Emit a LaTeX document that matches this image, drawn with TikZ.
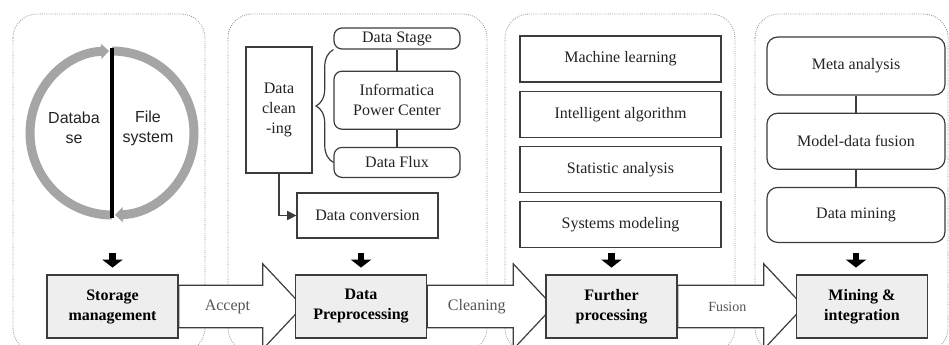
\documentclass[tikz,border=0pt]{standalone}
\usepackage{fontspec}
\setmainfont{Liberation Serif}
\newfontfamily\arialfont{Liberation Sans}
\usetikzlibrary{arrows.meta, positioning, decorations.pathreplacing, calc, backgrounds}
\usepackage{xcolor}
\definecolor{dbline}{RGB}{60,60,60}
\definecolor{dbpanel}{RGB}{140,140,140}
\definecolor{dbfill}{RGB}{238,238,238}
\definecolor{dbring}{RGB}{165,165,165}
\definecolor{dbtext}{RGB}{35,35,35}
\definecolor{dblabel}{RGB}{85,85,85}
\tikzset{
    panel/.style={draw=dbpanel, densely dotted, line width=0.6pt, rounded corners=18pt},
    tool/.style={draw=dbline, line width=0.9pt, fill=white, align=center, text=dbtext,
                 font=\fontsize{12}{15}\selectfont, inner sep=1pt},
    roundtool/.style={tool, rounded corners=6pt},
    stage/.style={tool, fill=dbfill, line width=1.1pt, text=black,
                  font=\fontsize{12}{15}\selectfont\bfseries, minimum width=98.25pt, minimum height=47.25pt},
    bigarrow/.style={draw=dbline, line width=0.9pt, fill=white, line join=miter},
    lbl/.style={font=\fontsize{12}{15}\selectfont, text=dblabel},
    sans/.style={font=\arialfont\fontsize{12}{15}\selectfont, text=dbtext, align=center},
    fat/.style={-{Triangle[width=15pt, length=6pt]}, line width=5pt, black, shorten >=5pt},
    link/.style={draw=dbline, line width=0.9pt},
    ring/.style={dbring, line width=6.75pt, -{Triangle[width=11pt, length=6pt]}},
}
\newcommand{\flowarrow}[3]{%
    \draw[bigarrow] ([yshift=16pt]#1.east) -- ([xshift=-24pt, yshift=16pt]#2.west)
        -- ([xshift=-24pt, yshift=32pt]#2.west) -- ([xshift=6pt]#2.west)
        -- ([xshift=-24pt, yshift=-32pt]#2.west) -- ([xshift=-24pt, yshift=-16pt]#2.west)
        -- ([yshift=-16pt]#1.east) -- cycle;
    \node[lbl] at ($(#1.east)!0.42!(#2.west)$) {#3};
}

\begin{document}
\begin{tikzpicture}[x=0.75pt, y=-0.75pt]
    \useasboundingbox (0,0) rectangle (949,344);
    % storage
    \coordinate (hub) at (112,133);
    \draw[ring] (hub) ++(90:82) arc[start angle=90, end angle=268, radius=82];
    \draw[ring] (hub) ++(270:82) arc[start angle=270, end angle=448, radius=82];
    \draw[line width=2.5pt] (112,48) -- (112,218);
    \node[sans] (db) at (74,128) {Databa\\se};
    \node[sans] (fs) at (148,128) {File\\system};
    \node[stage] (sm) at (112.5,306.5) {Storage\\management};
    % preprocessing
    \node[tool, minimum width=49.5pt, minimum height=94.5pt] (clean) at (279,110) {Data\\clean\\-ing};
    \node[roundtool, minimum width=94.5pt, minimum height=15.75pt] (dstage) at (397,38.5) {Data Stage};
    \node[roundtool, minimum width=94.5pt, minimum height=43.5pt, below=15.75pt of dstage] (infa) {Informatica\\Power Center};
    \node[roundtool, minimum width=94.5pt, minimum height=22.5pt, below=12.75pt of infa] (flux) {Data Flux};
    \draw[link] (dstage) -- (infa);
    \draw[link] (infa) -- (flux);
    \draw[link, decorate, decoration={brace, amplitude=13pt}] (flux.west) -- (dstage.south west);
    \node[tool, minimum width=105.75pt, minimum height=33.75pt] (conv) at (367.5,215.5) {Data conversion};
    \draw[link, -{Triangle[width=7pt, length=7pt]}] (clean.south) |- (conv.west);
    \node[stage] (dp) at (361,306.5) {Data\\Preprocessing};
    % further processing
    \node[tool, minimum width=150.75pt, minimum height=34.5pt] (ml) at (620.5,59) {Machine learning};
    \node[tool, minimum width=150.75pt, minimum height=34.5pt, below=6pt of ml] (ia) {Intelligent algorithm};
    \node[tool, minimum width=150.75pt, minimum height=34.5pt, below=6pt of ia] (sa) {Statistic analysis};
    \node[tool, minimum width=150.75pt, minimum height=34.5pt, below=6pt of sa] (smod) {Systems modeling};
    \node[stage] (fp) at (611.5,306.5) {Further\\processing};
    % mining
    \node[roundtool, rounded corners=8pt, minimum width=133.5pt, minimum height=43.5pt] (meta) at (856,66) {Meta analysis};
    \node[roundtool, rounded corners=8pt, minimum width=133.5pt, minimum height=42pt, below=12.75pt of meta] (mdf) {Model-data fusion};
    \node[roundtool, rounded corners=8pt, minimum width=133.5pt, minimum height=41.25pt, below=12.75pt of mdf] (dmin) {Data mining};
    \draw[link] (meta) -- (mdf);
    \draw[link] (mdf) -- (dmin);
    \node[stage] (mi) at (862,306.5) {Mining \&\\integration};
    % down arrows
    \draw[fat] ([yshift=15.75pt]sm.north) -- (sm.north);
    \draw[fat] ([yshift=15.75pt]dp.north) -- (dp.north);
    \draw[fat] ([yshift=15.75pt]fp.north) -- (fp.north);
    \draw[fat] ([yshift=15.75pt]mi.north -| dmin.south) -- (mi.north -| dmin.south);
    \begin{scope}[on background layer]
        \clip (0,0) rectangle (949,344);
        \draw[panel] (13,14) rectangle (205,352);
        \draw[panel] (228,14) rectangle (487,352);
        \draw[panel] (505,14) rectangle (735,352);
        \draw[panel] (755,14) rectangle (948,352);
        \flowarrow{sm}{dp}{Accept}
        \flowarrow{dp}{fp}{Cleaning}
        \flowarrow{fp}{mi}{\fontsize{10.5}{12}\selectfont Fusion}
    \end{scope}
\end{tikzpicture}
\end{document}
